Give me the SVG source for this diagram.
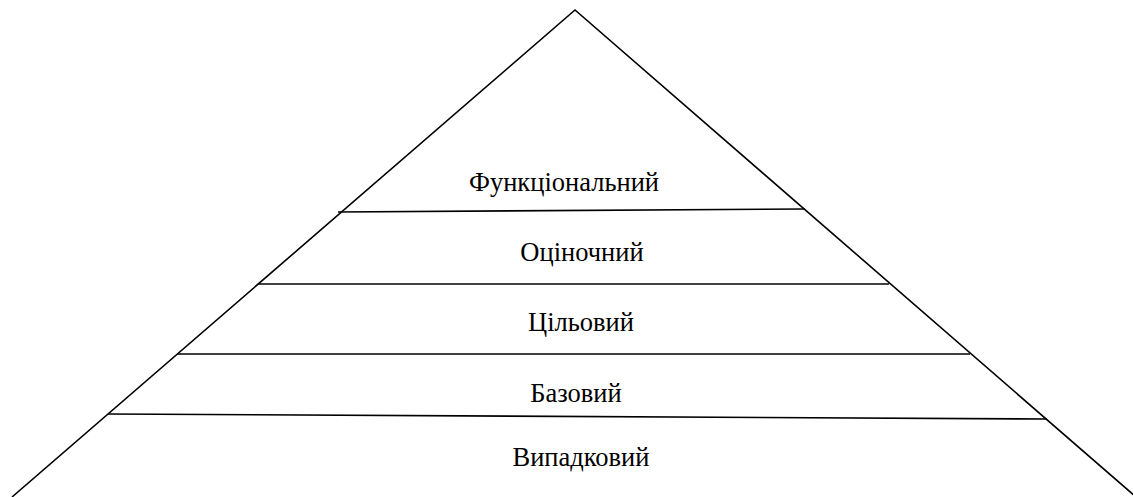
<svg xmlns="http://www.w3.org/2000/svg" width="1133" height="497" viewBox="0 0 1133 497">
<style>
.l{stroke:#000;stroke-width:1.6;fill:none}
.t{font-family:"Liberation Serif","Times New Roman",serif;font-size:26.5px;fill:#000;text-anchor:middle}
</style>
<rect width="1133" height="497" fill="#fff"/>
<g id="connectors">
<polyline class="l" points="12,497 575,10 1136,497"/>
<line class="l" x1="338" y1="212" x2="805" y2="209"/>
<line class="l" x1="258" y1="284" x2="889" y2="284"/>
<line class="l" x1="177" y1="354" x2="970" y2="354"/>
<line class="l" x1="108" y1="414" x2="1047" y2="419"/>
</g>
<g id="level1"><text class="t" x="564" y="191">Функціональний</text></g>
<g id="level2"><text class="t" x="582" y="261">Оціночний</text></g>
<g id="level3"><text class="t" x="581" y="331">Цільовий</text></g>
<g id="level4"><text class="t" x="576" y="402">Базовий</text></g>
<g id="level5"><text class="t" x="581" y="466">Випадковий</text></g>
</svg>
